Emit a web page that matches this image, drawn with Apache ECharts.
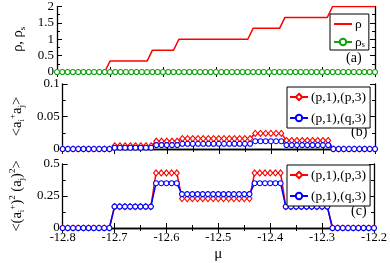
<!DOCTYPE html>
<html><head><meta charset="utf-8">
<script src="https://cdn.jsdelivr.net/npm/echarts@6/dist/echarts.min.js"></script>
<style>html,body{margin:0;padding:0;background:#fff}#c{width:390px;height:263px}</style>
</head><body><div id="c"></div>
<script>
const mu = [-12.80,-12.79,-12.78,-12.77,-12.76,-12.75,-12.74,-12.73,-12.72,-12.71,
  -12.70,-12.69,-12.68,-12.67,-12.66,-12.65,-12.64,-12.63,-12.62,-12.61,
  -12.60,-12.59,-12.58,-12.57,-12.56,-12.55,-12.54,-12.53,-12.52,-12.51,
  -12.50,-12.49,-12.48,-12.47,-12.46,-12.45,-12.44,-12.43,-12.42,-12.41,
  -12.40,-12.39,-12.38,-12.37,-12.36,-12.35,-12.34,-12.33,-12.32,-12.31,
  -12.30,-12.29,-12.28,-12.27,-12.26,-12.25,-12.24,-12.23,-12.22,-12.21,-12.20];
const rho = [0,0,0,0,0,0,0,0,0,0,
  0.3333,0.3333,0.3333,0.3333,0.3333,0.3333,0.3333,0.3333,
  0.6667,0.6667,0.6667,0.6667,0.6667,
  1,1,1,1,1,1,1,1,1,1,1,1,1,1,
  1.3333,1.3333,1.3333,1.3333,1.3333,1.3333,
  1.6667,1.6667,1.6667,1.6667,1.6667,1.6667,1.6667,1.6667,1.6667,
  2,2,2,2,2,2,2,2,2];
const rhoS = [0,0,0,0,0,0,0,0,0,0,0,0,0,0,0,0,0,0,0,0,0,0,0,0,0,0,0,0,0,0,
  0,0,0,0,0,0,0,0,0,0,0,0,0,0,0,0,0,0,0,0,0,0,0,0,0,0,0,0,0,0,0];
const hopPP = [0,0,0,0,0,0,0,0,0,0,
  0.005,0.005,0.005,0.005,0.005,0.005,0.005,0.005,
  0.012,0.012,0.012,0.012,0.012,
  0.016,0.016,0.016,0.016,0.016,0.016,0.016,0.016,0.016,0.016,0.016,0.016,0.016,0.016,
  0.024,0.024,0.024,0.024,0.024,0.024,
  0.013,0.013,0.013,0.013,0.013,0.013,0.013,0.013,0.013,
  0,0,0,0,0,0,0,0,0];
const hopPQ = [0,0,0,0,0,0,0,0,0,0,
  0.002,0.002,0.002,0.002,0.002,0.002,0.002,0.002,
  0.006,0.006,0.006,0.006,0.006,
  0.008,0.008,0.008,0.008,0.008,0.008,0.008,0.008,0.008,0.008,0.008,0.008,0.008,0.008,
  0.012,0.012,0.012,0.012,0.012,0.012,
  0.006,0.006,0.006,0.006,0.006,0.006,0.006,0.006,0.006,
  0,0,0,0,0,0,0,0,0];
const pairPP = [0,0,0,0,0,0,0,0,0,0,
  0.167,0.167,0.167,0.167,0.167,0.167,0.167,0.167,
  0.43,0.43,0.43,0.43,0.43,
  0.23,0.23,0.23,0.23,0.23,0.23,0.23,0.23,0.23,0.23,0.23,0.23,0.23,0.23,
  0.43,0.43,0.43,0.43,0.43,0.43,
  0.167,0.167,0.167,0.167,0.167,0.167,0.167,0.167,0.167,
  0,0,0,0,0,0,0,0,0];
const pairPQ = [0,0,0,0,0,0,0,0,0,0,
  0.167,0.167,0.167,0.167,0.167,0.167,0.167,0.167,
  0.35,0.35,0.35,0.35,0.35,
  0.265,0.265,0.265,0.265,0.265,0.265,0.265,0.265,0.265,0.265,0.265,0.265,0.265,0.265,
  0.35,0.35,0.35,0.35,0.35,0.35,
  0.167,0.167,0.167,0.167,0.167,0.167,0.167,0.167,0.167,
  0,0,0,0,0,0,0,0,0];
const xTicks = {min: -12.8, max: -12.2, interval: 0.1};
const yA = {min: 0, max: 2, interval: 0.5};
const yB = {min: 0, max: 0.1, interval: 0.05};
const yC = {min: 0, max: 0.5, interval: 0.25};

const F = 'Liberation Serif';
const pairs = arr => arr.map((v, i) => [mu[i], v]);
const grids = [
  {left: 57, right: 15, top: 5, height: 67},
  {left: 57, right: 15, top: 84, height: 65},
  {left: 57, right: 15, top: 164, height: 66}
];
const lineAx = {lineStyle: {color: '#000', width: 1.3}};
const tick = {inside: true, length: 5, lineStyle: {color: '#000', width: 1}};
const minor = {show: true, splitNumber: 2, length: 3, lineStyle: {color: '#000', width: 1}};
const xAxes = [], yAxes = [];
[0,1,2].forEach(g => {
  xAxes.push({type: 'value', gridIndex: g, position: 'bottom', ...xTicks,
    axisLine: lineAx, axisTick: tick, minorTick: minor, splitLine: {show: false},
    axisLabel: {show: g === 2, margin: 3, color: '#000', fontFamily: F, fontSize: 12.5,
      formatter: v => v.toFixed(1)},
    name: g === 2 ? 'μ' : '', nameLocation: 'middle', nameGap: 19,
    nameTextStyle: {fontFamily: F, fontSize: 15, color: '#000'}});
  xAxes.push({type: 'value', gridIndex: g, position: 'top', ...xTicks,
    axisLine: lineAx, axisTick: tick, minorTick: minor, splitLine: {show: false},
    axisLabel: {show: false}});
});
const yDefs = [
  {r: yA, name: '{n|ρ, ρ}{s|s}', gap: 24, fmt: v => String(v)},
  {r: yB, name: '{n|<a}{s|i}{p|+}{n|a}{s|j}{n|>}', gap: 30, fmt: v => String(+v.toFixed(2))},
  {r: yC, name: '{n|<(a}{s|i}{p|+}{n|)}{p|2}{n| (a}{s|j}{n|)}{p|2}{n|>}', gap: 33, fmt: v => String(+v.toFixed(2))}
];
const rich = {
  n: {fontFamily: F, fontSize: 14.5, color: '#000'},
  s: {fontFamily: F, fontSize: 9, color: '#000', verticalAlign: 'bottom', padding: [9, 0, 0, 0]},
  p: {fontFamily: F, fontSize: 9, color: '#000', verticalAlign: 'top', padding: [0, 0, 9, 0]}
};
yDefs.forEach((d, g) => {
  yAxes.push({type: 'value', gridIndex: g, position: 'left', ...d.r,
    axisLine: lineAx, axisTick: tick, minorTick: minor, splitLine: {show: false},
    axisLabel: {margin: 3, color: '#000', fontFamily: F, fontSize: 13, formatter: d.fmt},
    name: d.name, nameLocation: 'middle', nameGap: d.gap, nameRotate: 90,
    nameTextStyle: {rich}});
  yAxes.push({type: 'value', gridIndex: g, position: 'right', ...d.r,
    axisLine: lineAx, axisTick: tick, minorTick: minor, splitLine: {show: false},
    axisLabel: {show: false}});
});
const RED = '#ff0000', BLUE = '#0000ff', GREEN = '#10a010';
const mk = (name, data, g, color, symbol, size) => ({
  name, type: 'line', xAxisIndex: g * 2, yAxisIndex: g * 2, data: pairs(data),
  symbol, symbolSize: size, showSymbol: symbol !== 'none',
  lineStyle: {color, width: 1.5}, itemStyle: {color: '#fff', borderColor: color, borderWidth: 1.1},
  emphasis: {disabled: true}, animation: false
});
const series = [
  mk('ρ', rho, 0, RED, 'none', 0),
  mk('ρs', rhoS, 0, GREEN, 'circle', 5),
  mk('(p,1),(p,3)', hopPP, 1, RED, 'diamond', [5, 6]),
  mk('(p,1),(q,3)', hopPQ, 1, BLUE, 'circle', 5),
  {...mk('(p,1),(p,3)', pairPP, 2, RED, 'diamond', [5, 6]), name: 'c1'},
  {...mk('(p,1),(q,3)', pairPQ, 2, BLUE, 'circle', 5), name: 'c2'}
];
const legBase = {orient: 'vertical', backgroundColor: '#fff', borderColor: '#000', borderWidth: 1,
  borderRadius: 0, itemWidth: 18, itemHeight: 8, itemGap: 7,
  textStyle: {fontFamily: F, fontSize: 13.5, color: '#000', padding: [0,0,0,-2]},
  selectedMode: false};
const legends = [
  {...legBase, data: [{name: 'ρ', itemStyle: {opacity: 0}}, 'ρs'], left: 330, top: 14,
    padding: [3, 4, 1, 3], itemGap: 4,
    textStyle: {fontFamily: F, fontSize: 13.5, color: '#000', padding: [0,0,0,-2], lineHeight: 14,
      rich: {s: {fontFamily: F, fontSize: 8, color: '#000', lineHeight: 14, padding: [6,0,0,0]}}},
    formatter: n => n === 'ρs' ? 'ρ{s|s}' : n},
  {...legBase, data: ['(p,1),(p,3)', '(p,1),(q,3)'], left: 287, top: 87, padding: [3, 4, 3, 2]},
  {...legBase, data: ['c1', 'c2'], left: 287, top: 165, padding: [3, 4, 3, 2],
    formatter: n => n === 'c1' ? '(p,1),(p,3)' : '(p,1),(q,3)'}
];
const txt = (t, x, y) => ({type: 'text', left: x, top: y, silent: true,
  style: {text: t, fontFamily: F, fontSize: 14, fill: '#000'}});
const chart = echarts.init(document.getElementById('c'), null, {renderer: 'canvas'});
chart.setOption({
  animation: false,
  grid: grids, xAxis: xAxes, yAxis: yAxes, series, legend: legends,
  graphic: [txt('(a)', 346, 51), txt('(b)', 351, 125), txt('(c)', 351, 204)]
});
</script></body></html>
